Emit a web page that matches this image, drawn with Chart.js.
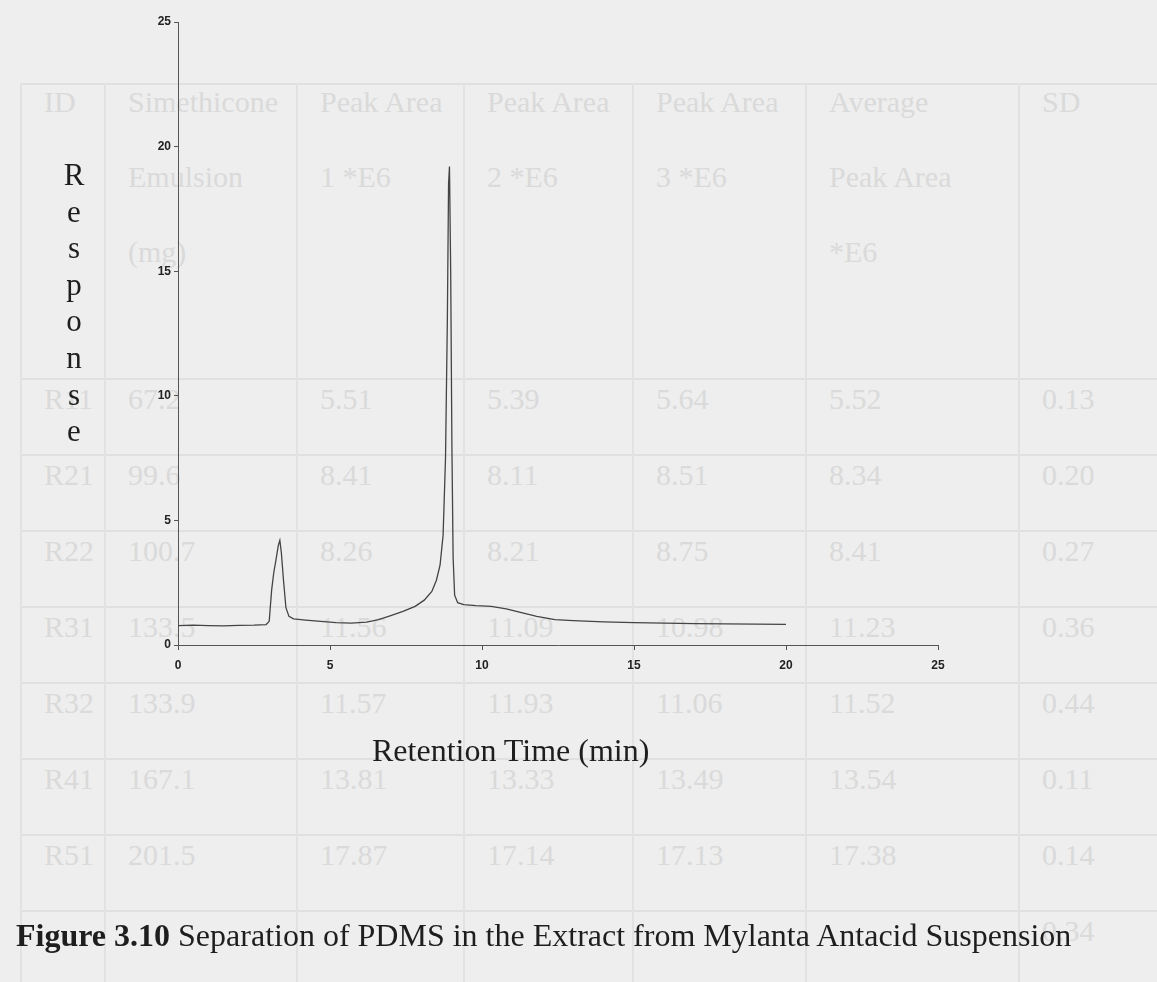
<!DOCTYPE html>
<html>
<head>
<meta charset="utf-8">
<title>Figure 3.10</title>
<script src="https://cdn.jsdelivr.net/npm/chart.js@4.4.0/dist/chart.umd.min.js"></script>
<style>
  body { margin: 0; background: #eeeeee; }
  #page { position: relative; width: 1157px; height: 982px; overflow: hidden; background: #eeeeee; }
  .ghost { position: absolute; font-family: "Liberation Serif", "Times New Roman", serif; font-size: 30px; color: #dadada; white-space: nowrap; }
  .hline { position: absolute; height: 2px; background: #e0e0e0; }
  .vline { position: absolute; width: 2px; background: #e2e2e2; }
  .serif { position: absolute; font-family: "Liberation Serif", "Times New Roman", serif; color: #1e1e1e; white-space: nowrap; }
  #chart { position: absolute; left: 0; top: 0; }
</style>
</head>
<body>
<div id="page">
  <div id="table"></div>
  <canvas id="chart" width="1157" height="982"></canvas>
  <div class="serif" id="ytitle" style="left:59px; top:157px; width:30px; font-size:31px; line-height:36.6px; text-align:center;"></div>
  <div class="serif" style="left:372px; top:732px; font-size:32px; line-height:36px;">Retention Time (min)</div>
  <div class="serif" style="left:16px; top:917px; font-size:32px; line-height:36px;"><b>Figure 3.10</b> Separation of PDMS in the Extract from Mylanta Antacid Suspension</div>
</div>
<script>
// chromatogram trace
const retentionTime = [0, 0.5, 1, 1.5, 2, 2.5, 2.9, 3.0, 3.08, 3.15, 3.22, 3.3, 3.35, 3.4, 3.47, 3.55, 3.65, 3.8, 4.2, 4.7, 5.2, 5.7, 6.2, 6.6, 7.0, 7.4, 7.8, 8.1, 8.35, 8.5, 8.62, 8.72, 8.8, 8.86, 8.9, 8.93, 8.97, 9.01, 9.05, 9.1, 9.2, 9.4, 9.8, 10.3, 10.8, 11.3, 11.8, 12.4, 13, 14, 15, 16, 17, 18, 19, 20];
const response = [0.78, 0.8, 0.78, 0.77, 0.79, 0.8, 0.82, 0.95, 2.2, 2.9, 3.4, 4.0, 4.2, 3.7, 2.6, 1.5, 1.15, 1.05, 1.0, 0.95, 0.9, 0.88, 0.92, 1.02, 1.18, 1.35, 1.55, 1.8, 2.15, 2.6, 3.2, 4.4, 7.5, 13, 18.5, 19.2, 15, 8, 3.5, 2.0, 1.7, 1.62, 1.58, 1.55, 1.45, 1.3, 1.15, 1.02, 0.98, 0.93, 0.9, 0.88, 0.86, 0.85, 0.84, 0.83];
const xTicks = [0, 5, 10, 15, 20, 25];
const yTicks = [0, 5, 10, 15, 20, 25];
const yTitle = "Response";

// faint table showing through from the other side of the page
const tableHeader = [
  ["ID", "Simethicone", "Peak Area", "Peak Area", "Peak Area", "Average", "SD"],
  ["", "Emulsion", "1 *E6", "2 *E6", "3 *E6", "Peak Area", ""],
  ["", "(mg)", "", "", "", "*E6", ""]
];
const tableRows = [
  ["R11", "67.2", "5.51", "5.39", "5.64", "5.52", "0.13"],
  ["R21", "99.6", "8.41", "8.11", "8.51", "8.34", "0.20"],
  ["R22", "100.7", "8.26", "8.21", "8.75", "8.41", "0.27"],
  ["R31", "133.5", "11.56", "11.09", "10.98", "11.23", "0.36"],
  ["R32", "133.9", "11.57", "11.93", "11.06", "11.52", "0.44"],
  ["R41", "167.1", "13.81", "13.33", "13.49", "13.54", "0.11"],
  ["R51", "201.5", "17.87", "17.14", "17.13", "17.38", "0.14"],
  ["", "", "", "", "", "", "0.34"]
];

// ghost table layout
const colEdges = [20, 104, 296, 463, 632, 805, 1018, 1157];
const rowEdges = [83, 378, 454, 530, 606, 682, 758, 834, 910];
const table = document.getElementById("table");
rowEdges.forEach(function(y) {
  const d = document.createElement("div");
  d.className = "hline";
  d.style.left = "20px"; d.style.width = "1137px"; d.style.top = y + "px";
  table.appendChild(d);
});
colEdges.forEach(function(x) {
  const d = document.createElement("div");
  d.className = "vline";
  d.style.left = x + "px"; d.style.top = "83px"; d.style.height = "899px";
  table.appendChild(d);
});
function ghostText(txt, col, cy) {
  if (!txt) return;
  const d = document.createElement("div");
  d.className = "ghost";
  d.textContent = txt;
  d.style.left = (colEdges[col] + 24) + "px";
  d.style.top = (cy - 18) + "px";
  table.appendChild(d);
}
tableHeader.forEach(function(line, i) {
  line.forEach(function(t, c) { ghostText(t, c, 103 + i * 75); });
});
tableRows.forEach(function(row, i) {
  row.forEach(function(t, c) { ghostText(t, c, 400 + i * 76); });
});

// stacked y title
document.getElementById("ytitle").innerHTML = yTitle.split("").join("<br>");

const axisColor = "#555555";
const tickFont = { family: "'Liberation Sans', Arial, sans-serif", size: 12, weight: "bold" };

new Chart("chart", {
  type: "scatter",
  data: {
    datasets: [{
      label: "Response",
      data: retentionTime.map(function(t, i) { return { x: t, y: response[i] }; }),
      showLine: true,
      borderColor: "#444444",
      borderWidth: 1.3,
      pointRadius: 0,
      tension: 0
    }]
  },
  options: {
    responsive: false,
    animation: false,
    devicePixelRatio: 1,
    layout: { padding: { left: 0, top: 22, right: 219, bottom: 302 } },
    plugins: { legend: { display: false }, tooltip: { enabled: false } },
    scales: {
      x: {
        type: "linear",
        min: 0, max: 25,
        afterBuildTicks: function(s) { s.ticks = xTicks.map(function(v) { return { value: v }; }); },
        afterFit: function(s) { s.height = 35; },
        ticks: { color: "#222", font: tickFont, padding: 8, maxRotation: 0 },
        grid: { display: true, drawOnChartArea: false, drawTicks: true, tickLength: 5, color: axisColor },
        border: { display: true, color: axisColor, width: 1 }
      },
      y: {
        type: "linear",
        min: 0, max: 25,
        afterBuildTicks: function(s) { s.ticks = yTicks.map(function(v) { return { value: v }; }); },
        afterFit: function(s) { s.width = 178; },
        ticks: { color: "#222", font: tickFont, padding: 3 },
        grid: { display: true, drawOnChartArea: false, drawTicks: true, tickLength: 4, color: axisColor },
        border: { display: true, color: axisColor, width: 1 }
      }
    }
  }
});
</script>
</body>
</html>
